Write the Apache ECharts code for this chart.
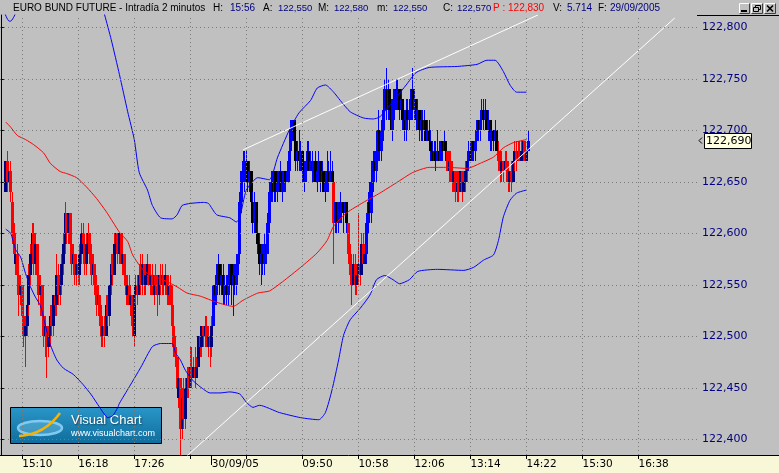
<!DOCTYPE html>
<html><head><meta charset="utf-8">
<script src="https://cdn.jsdelivr.net/npm/echarts@6.0.0/dist/echarts.min.js"></script>
<style>
html,body{margin:0;padding:0;background:#c0c0c0;overflow:hidden}
#wrap{position:relative;width:779px;height:473px;background:#c0c0c0}
#band{position:absolute;left:0;top:456px;width:779px;height:17px;background:#f8f8d8}
#c{position:absolute;left:0;top:0;width:779px;height:473px}
</style>
</head><body><div id="wrap"><div id="band"></div><div id="c"></div></div>
<script>
// ---------------- DATA ----------------
const firstBar = 3; // bar index of the first candle (2-minute bars)
const opens = [
122.64,122.67,122.65,122.66,122.63,122.60,122.57,122.58,122.56,122.54,
122.55,122.52,122.50,122.51,122.53,122.56,122.58,122.60,122.57,122.59,
122.56,122.54,122.55,122.52,122.50,122.51,122.49,122.50,122.52,122.51,
122.54,122.53,122.56,122.54,122.55,122.57,122.59,122.62,122.60,122.62,
122.59,122.57,122.58,122.56,122.57,122.56,122.58,122.60,122.59,122.57,
122.59,122.60,122.58,122.56,122.57,122.55,122.53,122.54,122.52,122.50,
122.51,122.50,122.53,122.52,122.55,122.57,122.56,122.59,122.60,122.58,
122.60,122.57,122.58,122.56,122.54,122.55,122.53,122.54,122.50,122.54,
122.55,122.54,122.56,122.55,122.57,122.55,122.56,122.57,122.55,122.56,
122.54,122.56,122.55,122.54,122.56,122.55,122.56,122.55,122.56,122.54,
122.55,122.53,122.51,122.49,122.48,122.44,122.46,122.41,122.44,122.42,
122.45,122.46,122.45,122.47,122.46,122.47,122.46,122.47,122.50,122.49,
122.51,122.50,122.51,122.49,122.50,122.49,122.51,122.55,122.54,122.56,
122.57,122.55,122.56,122.54,122.55,122.54,122.56,122.57,122.55,122.56,
122.55,122.57,122.58,122.63,122.66,122.65,122.66,122.67,122.65,122.66,
122.63,122.61,122.63,122.60,122.59,122.57,122.58,122.57,122.59,122.58,
122.61,122.64,122.65,122.64,122.66,122.64,122.65,122.66,122.64,122.65,
122.66,122.65,122.66,122.68,122.70,122.71,122.69,122.67,122.68,122.67,
122.68,122.66,122.65,122.67,122.68,122.66,122.67,122.66,122.67,122.65,
122.66,122.67,122.65,122.66,122.64,122.65,122.66,122.65,122.66,122.65,
122.61,122.63,122.61,122.63,122.62,122.63,122.62,122.63,122.61,122.58,
122.56,122.55,122.57,122.55,122.56,122.57,122.56,122.59,122.57,122.58,
122.61,122.63,122.62,122.65,122.67,122.66,122.68,122.70,122.68,122.70,
122.72,122.74,122.72,122.74,122.72,122.70,122.72,122.74,122.73,122.74,
122.72,122.73,122.71,122.70,122.72,122.71,122.72,122.74,122.72,122.73,
122.71,122.72,122.70,122.71,122.70,122.71,122.69,122.70,122.69,122.68,
122.67,122.68,122.67,122.68,122.67,122.69,122.68,122.69,122.68,122.66,
122.67,122.66,122.65,122.66,122.64,122.65,122.64,122.66,122.64,122.65,
122.66,122.67,122.68,122.67,122.69,122.68,122.69,122.71,122.70,122.71,
122.72,122.71,122.72,122.70,122.71,122.69,122.70,122.69,122.70,122.68,
122.67,122.66,122.67,122.66,122.67,122.66,122.65,122.66,122.65,122.67,
122.68,122.67,122.68,122.67,122.68,122.69,122.67,122.68];
const closes = [
122.67,122.65,122.66,122.64,122.60,122.58,122.58,122.56,122.54,122.55,
122.52,122.50,122.51,122.53,122.56,122.58,122.60,122.57,122.59,122.56,
122.54,122.55,122.52,122.50,122.51,122.49,122.50,122.52,122.51,122.54,
122.53,122.56,122.54,122.55,122.57,122.59,122.62,122.60,122.62,122.59,
122.57,122.58,122.56,122.57,122.56,122.58,122.60,122.59,122.57,122.59,
122.60,122.58,122.56,122.57,122.55,122.53,122.54,122.52,122.50,122.51,
122.50,122.53,122.52,122.55,122.57,122.56,122.59,122.60,122.58,122.60,
122.57,122.58,122.56,122.54,122.55,122.53,122.54,122.51,122.54,122.55,
122.54,122.56,122.55,122.57,122.55,122.56,122.57,122.55,122.56,122.54,
122.56,122.55,122.54,122.56,122.55,122.56,122.55,122.56,122.54,122.55,
122.53,122.51,122.49,122.48,122.45,122.46,122.41,122.44,122.42,122.45,
122.46,122.45,122.47,122.46,122.47,122.46,122.47,122.50,122.49,122.51,
122.50,122.51,122.49,122.50,122.49,122.51,122.55,122.54,122.56,122.57,
122.55,122.56,122.54,122.55,122.54,122.56,122.57,122.55,122.56,122.55,
122.57,122.58,122.63,122.66,122.67,122.67,122.67,122.65,122.66,122.63,
122.61,122.63,122.60,122.59,122.57,122.58,122.57,122.59,122.58,122.61,
122.64,122.65,122.64,122.66,122.64,122.65,122.66,122.64,122.65,122.66,
122.65,122.66,122.68,122.70,122.71,122.69,122.67,122.68,122.67,122.68,
122.66,122.65,122.67,122.68,122.66,122.67,122.66,122.67,122.65,122.66,
122.67,122.65,122.66,122.64,122.65,122.66,122.65,122.66,122.65,122.61,
122.63,122.61,122.63,122.62,122.63,122.62,122.63,122.61,122.58,122.56,
122.55,122.57,122.55,122.56,122.57,122.56,122.59,122.57,122.58,122.61,
122.63,122.62,122.65,122.67,122.66,122.68,122.70,122.68,122.70,122.72,
122.74,122.72,122.74,122.72,122.70,122.72,122.74,122.73,122.74,122.72,
122.73,122.71,122.70,122.72,122.71,122.72,122.74,122.72,122.73,122.71,
122.72,122.70,122.71,122.70,122.71,122.69,122.70,122.69,122.68,122.67,
122.68,122.67,122.68,122.67,122.69,122.68,122.69,122.68,122.66,122.67,
122.66,122.65,122.66,122.64,122.65,122.64,122.66,122.64,122.65,122.66,
122.67,122.68,122.67,122.69,122.68,122.69,122.71,122.70,122.71,122.72,
122.71,122.72,122.70,122.71,122.69,122.70,122.69,122.70,122.68,122.67,
122.66,122.67,122.66,122.67,122.66,122.65,122.66,122.65,122.67,122.68,
122.67,122.68,122.67,122.68,122.69,122.67,122.68,122.69];
const lows = [
122.64,122.64,122.64,122.63,122.59,122.57,122.56,122.55,122.52,122.53,
122.51,122.49,122.47,122.50,122.52,122.55,122.57,122.56,122.56,122.55,
122.53,122.52,122.51,122.49,122.48,122.46,122.48,122.49,122.50,122.50,
122.52,122.52,122.53,122.53,122.54,122.56,122.58,122.59,122.59,122.58,
122.56,122.56,122.55,122.55,122.55,122.55,122.57,122.58,122.56,122.56,
122.58,122.57,122.55,122.55,122.54,122.52,122.52,122.51,122.49,122.49,
122.49,122.50,122.51,122.51,122.54,122.55,122.56,122.58,122.57,122.57,
122.57,122.56,122.55,122.53,122.53,122.53,122.52,122.50,122.49,122.53,
122.53,122.54,122.54,122.54,122.54,122.54,122.55,122.55,122.54,122.54,
122.53,122.54,122.52,122.53,122.54,122.54,122.54,122.54,122.53,122.53,
122.53,122.50,122.48,122.47,122.44,122.43,122.385,122.40,122.41,122.41,
122.44,122.44,122.45,122.45,122.46,122.45,122.46,122.47,122.48,122.48,
122.49,122.49,122.49,122.48,122.47,122.48,122.51,122.53,122.53,122.55,
122.54,122.54,122.53,122.53,122.53,122.53,122.55,122.53,122.52,122.54,
122.54,122.56,122.58,122.62,122.65,122.64,122.65,122.64,122.64,122.62,
122.60,122.60,122.59,122.58,122.56,122.55,122.56,122.56,122.57,122.58,
122.60,122.63,122.63,122.63,122.63,122.63,122.64,122.64,122.63,122.64,
122.64,122.65,122.65,122.67,122.69,122.68,122.66,122.66,122.66,122.66,
122.65,122.64,122.65,122.66,122.66,122.66,122.65,122.65,122.65,122.64,
122.65,122.64,122.65,122.64,122.63,122.64,122.64,122.65,122.65,122.57,
122.60,122.60,122.60,122.61,122.61,122.60,122.61,122.60,122.57,122.55,
122.53,122.55,122.54,122.54,122.55,122.55,122.56,122.57,122.57,122.57,
122.60,122.61,122.61,122.64,122.65,122.65,122.67,122.67,122.67,122.69,
122.71,122.71,122.71,122.71,122.70,122.69,122.71,122.72,122.72,122.71,
122.71,122.70,122.69,122.69,122.70,122.70,122.71,122.71,122.71,122.70,
122.70,122.69,122.69,122.69,122.69,122.69,122.69,122.68,122.67,122.67,
122.67,122.66,122.67,122.67,122.67,122.67,122.68,122.67,122.66,122.65,
122.65,122.64,122.64,122.63,122.63,122.63,122.64,122.63,122.64,122.64,
122.65,122.66,122.67,122.67,122.67,122.67,122.69,122.69,122.69,122.70,
122.70,122.70,122.70,122.69,122.68,122.68,122.68,122.68,122.68,122.66,
122.65,122.65,122.65,122.66,122.65,122.64,122.64,122.64,122.65,122.66,
122.66,122.67,122.67,122.67,122.67,122.67,122.67,122.68];
const highs = [
122.67,122.68,122.66,122.67,122.64,122.61,122.60,122.59,122.57,122.56,
122.55,122.53,122.52,122.54,122.57,122.59,122.61,122.61,122.60,122.59,
122.57,122.56,122.55,122.53,122.52,122.51,122.51,122.53,122.53,122.54,
122.55,122.58,122.57,122.56,122.58,122.60,122.63,122.62,122.62,122.62,
122.60,122.59,122.58,122.58,122.57,122.59,122.61,122.61,122.60,122.60,
122.61,122.60,122.59,122.58,122.57,122.56,122.55,122.54,122.53,122.52,
122.52,122.54,122.54,122.55,122.58,122.58,122.60,122.60,122.60,122.60,
122.60,122.59,122.58,122.56,122.56,122.56,122.55,122.54,122.54,122.56,
122.56,122.57,122.58,122.58,122.57,122.57,122.58,122.57,122.57,122.57,
122.56,122.57,122.56,122.56,122.57,122.57,122.56,122.57,122.56,122.56,
122.56,122.55,122.52,122.50,122.48,122.47,122.46,122.45,122.46,122.46,
122.47,122.47,122.49,122.49,122.48,122.49,122.48,122.50,122.51,122.51,
122.51,122.52,122.52,122.51,122.51,122.52,122.55,122.56,122.57,122.58,
122.57,122.57,122.57,122.56,122.56,122.57,122.57,122.57,122.57,122.57,
122.58,122.58,122.64,122.66,122.68,122.68,122.68,122.67,122.67,122.66,
122.64,122.64,122.63,122.61,122.60,122.59,122.59,122.60,122.60,122.62,
122.65,122.66,122.66,122.66,122.66,122.66,122.66,122.67,122.66,122.66,
122.66,122.67,122.69,122.71,122.71,122.71,122.69,122.69,122.70,122.69,
122.68,122.67,122.67,122.69,122.69,122.68,122.68,122.67,122.68,122.67,
122.68,122.67,122.67,122.66,122.66,122.68,122.67,122.68,122.67,122.65,
122.63,122.63,122.63,122.64,122.63,122.63,122.63,122.63,122.61,122.59,
122.57,122.58,122.58,122.57,122.62,122.58,122.60,122.60,122.59,122.62,
122.64,122.65,122.67,122.68,122.68,122.70,122.72,122.70,122.71,122.72,
122.75,122.76,122.75,122.74,122.73,122.73,122.74,122.75,122.75,122.74,
122.74,122.73,122.72,122.73,122.73,122.73,122.74,122.76,122.74,122.73,
122.73,122.72,122.72,122.72,122.72,122.71,122.71,122.71,122.70,122.69,
122.69,122.69,122.70,122.69,122.69,122.69,122.70,122.69,122.68,122.68,
122.68,122.67,122.66,122.66,122.66,122.66,122.66,122.66,122.66,122.67,
122.68,122.69,122.69,122.69,122.69,122.70,122.71,122.71,122.72,122.73,
122.73,122.73,122.72,122.72,122.71,122.70,122.70,122.71,122.70,122.69,
122.68,122.68,122.67,122.68,122.68,122.67,122.66,122.67,122.68,122.69,
122.69,122.69,122.69,122.69,122.69,122.69,122.68,122.70];
// bar colouring regime: [fromBar, toBar, 1 = blue (up), 0 = red (down)]
const trendRuns = [[3,128,0],[129,201,1],[202,202,0],[203,210,1],[211,221,0],[222,270,1],[271,283,0],[284,301,1],[302,319,0],[320,320,1]];
// moving average and Bollinger bands: [barIndex, price]
const maPoints = [[3,122.708],[6,122.703],[10,122.695],[15,122.691],[20,122.686],[26,122.678],[30,122.668],[36,122.660],[40,122.658],[46,122.654],[52,122.645],[58,122.634],[64,122.621],[68,122.611],[72,122.601],[77,122.592],[80,122.579],[85,122.567],[89,122.561],[95,122.557],[101,122.553],[107,122.548],[113,122.542],[121,122.539],[131,122.533],[141,122.529],[147,122.535],[156,122.542],[163,122.544],[171,122.553],[182,122.567],[192,122.581],[198,122.593],[202,122.607],[210,122.620],[220,122.630],[230,122.639],[240,122.649],[250,122.659],[260,122.664],[271,122.664],[283,122.663],[291,122.668],[299,122.674],[305,122.683],[311,122.688],[319,122.691]];
const upperBandPoints = [[2,122.815],[5,122.806],[6,122.806],[9,122.814],[12,122.84],[58,122.84],[63,122.812],[67,122.788],[72,122.754],[77,122.718],[81,122.691],[84,122.659],[89,122.642],[92,122.627],[97,122.615],[104,122.614],[107,122.618],[110,122.627],[115,122.629],[123,122.630],[126,122.629],[131,122.618],[139,122.615],[143,122.611],[145,122.615],[149,122.642],[156,122.654],[163,122.652],[168,122.674],[175,122.700],[181,122.717],[188,122.729],[192,122.741],[197,122.744],[202,122.737],[206,122.729],[212,122.718],[220,122.712],[226,122.711],[230,122.713],[240,122.732],[246,122.744],[252,122.756],[260,122.761],[277,122.762],[289,122.764],[295,122.768],[300,122.768],[305,122.757],[309,122.744],[313,122.737],[319,122.737]];
const lowerBandPoints = [[3,122.604],[6,122.600],[9,122.584],[12,122.577],[15,122.561],[18,122.548],[21,122.538],[24,122.530],[27,122.511],[30,122.492],[34,122.477],[38,122.469],[44,122.463],[50,122.453],[55,122.443],[60,122.431],[65,122.421],[68,122.423],[71,122.431],[72,122.435],[78,122.451],[85,122.470],[92,122.490],[97,122.493],[104,122.493],[106,122.484],[109,122.477],[112,122.467],[116,122.458],[121,122.451],[127,122.445],[133,122.445],[139,122.446],[145,122.444],[149,122.436],[153,122.431],[157,122.433],[169,122.426],[182,122.421],[193,122.419],[197,122.426],[201,122.448],[205,122.477],[208,122.501],[212,122.516],[218,122.527],[224,122.540],[228,122.555],[233,122.559],[238,122.555],[242,122.551],[248,122.555],[253,122.563],[265,122.565],[281,122.564],[287,122.567],[293,122.574],[299,122.579],[302,122.593],[305,122.616],[309,122.632],[313,122.639],[319,122.642]];
// hand-drawn trend lines: [barIndex, price]
const upperTrendLine = [[147,122.681],[326,122.812]];
const lowerTrendLine = [[113,122.384],[409,122.809]];
// axes
const yTicks = [122.40,122.45,122.50,122.55,122.60,122.65,122.70,122.75,122.80];
const xTickIdx = [13,47,81,115,149,183,217,251,285,319,353,387];
const xLabelIdx = [13,47,81,128,183,217,251,285,319,353,387];
const xLabelText = ['15:10','16:18','17:26','30/09/05','09:50','10:58','12:06','13:14','14:22','15:30','16:38'];
const dayBreakIdx = 128;
const lastPrice = 122.69;
// header
const titleTexts = ['EURO BUND FUTURE - Intradía 2 minutos','H:','15:56','A:','122,550','M:','122,580','m:','122,550','C:','122,570','P : 122,830','V:','5.714','F:','29/09/2005'];
const titleColors = ['#000','#000','#000080','#000','#000080','#000','#000080','#000','#000080','#000','#000080','#ff0000','#000','#000080','#000','#000080'];

// ---------------- LAYOUT ----------------
const titleX = [13,213,230,263,278,318,334,377,393,443,457,493,553,567,598,610];
const titleSize = [10,10,10,10,9.5,10,9.5,10,9.5,10,9.5,10,10,10,10,10];
const Y_MIN = 122.38476, Y_MAX = 122.81194;
const X_MIN = -0.5, X_MAX = 422.5;

function trendAt(i){
  for (const r of trendRuns) if (i >= r[0] && i <= r[1]) return r[2];
  return 0;
}
const bars = opens.map((o,k)=>[firstBar+k, o, closes[k], lows[k], highs[k], trendAt(firstBar+k)]);
const fmtPrice = v => v.toFixed(3).replace('.', ',');

function renderCandle(params, api){
  const idx = api.value(0), o = api.value(1), c = api.value(2), l = api.value(3), h = api.value(4), up = api.value(5);
  const pO = api.coord([idx,o]), pC = api.coord([idx,c]), pL = api.coord([idx,l]), pH = api.coord([idx,h]);
  const x = Math.floor(pO[0]);
  const wick = up ? '#0000ff' : '#ff0000';
  const rising = c > o;
  const body = up ? (rising ? '#0000ff' : '#000000') : (rising ? '#000080' : '#ff0000');
  const yT = Math.round(Math.min(pO[1],pC[1])), yB = Math.round(Math.max(pO[1],pC[1]));
  const yH = Math.round(pH[1]), yL = Math.round(pL[1]);
  return {type:'group', children:[
    {type:'rect', shape:{x:x, y:yH, width:1, height:Math.max(1,yL-yH)}, style:{fill:wick}},
    {type:'rect', shape:{x:x-1, y:yT, width:3, height:Math.max(1,yB-yT)}, style:{fill:body}}
  ]};
}

const chart = echarts.init(document.getElementById('c'), null, {renderer:'canvas'});
const gridMarks = yTicks.map(v=>({yAxis:v})).concat(xTickIdx.map(i=>({xAxis:i})));
const FONT_AX = 'DejaVu Sans';

const option = {
  animation:false,
  backgroundColor:'transparent',
  grid:{left:0,right:82,top:15,bottom:18,containLabel:false,outerBoundsMode:'none'},
  xAxis:[{
    type:'value', min:X_MIN, max:X_MAX, position:'bottom',
    axisLine:{show:true,onZero:false,lineStyle:{color:'#000',width:1}},
    axisTick:{show:true,customValues:xTickIdx,length:4,lineStyle:{color:'#000'}},
    axisLabel:{show:true,customValues:xLabelIdx,formatter:v=>xLabelText[xLabelIdx.indexOf(v)]||'',align:'left',margin:4,color:'#000',fontFamily:FONT_AX,fontSize:10.5},
    splitLine:{show:false}
  },{
    type:'value', min:X_MIN, max:X_MAX, position:'bottom',
    axisLine:{show:false},
    axisTick:{show:true,customValues:[dayBreakIdx],length:10,lineStyle:{color:'#000'}},
    axisLabel:{show:false}, splitLine:{show:false}
  }],
  yAxis:{
    type:'value', position:'right', min:Y_MIN, max:Y_MAX,
    axisLine:{show:true,lineStyle:{color:'#000',width:1}},
    axisTick:{show:true,customValues:yTicks,length:3,lineStyle:{color:'#000'}},
    axisLabel:{show:true,customValues:yTicks,formatter:fmtPrice,color:'#000080',fontFamily:FONT_AX,fontSize:11,margin:5},
    splitLine:{show:false}
  },
  series:[
    {type:'line', data:[], silent:true, z:1,
     markLine:{silent:true, symbol:['none','none'], label:{show:false}, lineStyle:{color:'#7a7a7a',width:1,type:[1,3]}, data:gridMarks}},
    {type:'custom', data:bars, renderItem:renderCandle, encode:{x:0,y:[1,2,3,4]}, clip:true, silent:true, z:2},
    {type:'line', data:lowerBandPoints, symbol:'none', smooth:0.2, silent:true, z:3, lineStyle:{color:'#0000ff',width:1}},
    {type:'line', data:upperBandPoints, symbol:'none', smooth:0.2, silent:true, z:3, lineStyle:{color:'#0000ff',width:1}},
    {type:'line', data:maPoints, symbol:'none', smooth:0.2, silent:true, z:3, lineStyle:{color:'#ff0000',width:1}},
    {type:'line', data:upperTrendLine, symbol:'none', silent:true, z:4, lineStyle:{color:'#ffffff',width:1}},
    {type:'line', data:lowerTrendLine, symbol:'none', silent:true, z:4, lineStyle:{color:'#ffffff',width:1}}
  ]
};
chart.setOption(option);

// -------- overlay graphics (header, window buttons, logo, last-price tag) --------
const py = chart.convertToPixel({yAxisIndex:0}, lastPrice);
const g = [];
titleTexts.forEach((t,k)=>g.push({type:'text', z:100, style:{text:t, x:titleX[k], y:8, fill:titleColors[k], font:titleSize[k]+'px "Liberation Sans", Arial, sans-serif', textVerticalAlign:'middle'}}));
// right panel borders
g.push({type:'line', z:100, shape:{x1:697,y1:15.5,x2:779,y2:15.5}, style:{stroke:'#000',lineWidth:1}});
g.push({type:'line', z:100, shape:{x1:697,y1:455.5,x2:779,y2:455.5}, style:{stroke:'#000',lineWidth:1}});
// window buttons
function btn(x,w,kind){
  const y=3,h=11;
  const ch=[
    {type:'rect', shape:{x:x,y:y,width:w,height:h}, style:{fill:'#c0c0c0'}},
    {type:'polyline', shape:{points:[[x+0.5,y+h-0.5],[x+0.5,y+0.5],[x+w-0.5,y+0.5]]}, style:{stroke:'#ffffff',lineWidth:1,fill:null}},
    {type:'polyline', shape:{points:[[x+0.5,y+h-0.5],[x+w-0.5,y+h-0.5],[x+w-0.5,y+0.5]]}, style:{stroke:'#404040',lineWidth:1,fill:null}}
  ];
  if(kind==='min') ch.push({type:'rect', shape:{x:x+2,y:y+7,width:6,height:2}, style:{fill:'#000'}});
  if(kind==='res'){
    ch.push({type:'rect', shape:{x:x+4.5,y:y+2.5,width:5,height:4}, style:{fill:null,stroke:'#000',lineWidth:1}});
    ch.push({type:'rect', shape:{x:x+2.5,y:y+4.5,width:5,height:4}, style:{fill:'#c0c0c0',stroke:'#000',lineWidth:1}});
  }
  if(kind==='close'){
    ch.push({type:'line', shape:{x1:x+3,y1:y+2.5,x2:x+w-3,y2:y+h-2.5}, style:{stroke:'#000',lineWidth:1.6}});
    ch.push({type:'line', shape:{x1:x+w-3,y1:y+2.5,x2:x+3,y2:y+h-2.5}, style:{stroke:'#000',lineWidth:1.6}});
  }
  return {type:'group', z:100, children:ch};
}
g.push(btn(739,11,'min'), btn(751,12,'res'), btn(764,12,'close'));
// logo
g.push({type:'group', z:100, x:10, y:407, children:[
  {type:'rect', shape:{x:0.5,y:0.5,width:151,height:36}, style:{stroke:'#000',lineWidth:1,fill:new echarts.graphic.LinearGradient(0,0,0,1,[{offset:0,color:'#2a96c8'},{offset:1,color:'#0f6d9c'}])}},
  {type:'ellipse', shape:{cx:30,cy:21,rx:22,ry:7}, style:{fill:'rgba(140,210,245,0.35)',stroke:'#7fcaf0',lineWidth:2.5}},
  {type:'bezierCurve', shape:{x1:9,y1:29,cpx1:26,cpy1:28,cpx2:40,cpy2:20,x2:50,y2:6}, style:{stroke:'#f3b406',lineWidth:2.5,fill:null}},
  {type:'text', style:{text:'Visual Chart', x:61, y:13, fill:'#ffffff', font:'13px "Liberation Sans", Arial, sans-serif', textVerticalAlign:'middle', textShadowColor:'rgba(0,0,0,0.5)', textShadowBlur:2, textShadowOffsetX:1, textShadowOffsetY:1}},
  {type:'text', style:{text:'www.visualchart.com', x:61, y:27, fill:'#ffffff', font:'9px "Liberation Sans", Arial, sans-serif', textVerticalAlign:'middle'}}
]});
// last price tag on the price axis
g.push({type:'group', z:101, children:[
  {type:'polyline', shape:{points:[[702,py-3],[699,py],[702,py+3]]}, style:{stroke:'#000',lineWidth:1,fill:null}},
  {type:'rect', shape:{x:704.5,y:Math.round(py)-7.5,width:47,height:15}, style:{fill:'#ffffe1',stroke:'#000',lineWidth:1}},
  {type:'text', style:{text:fmtPrice(lastPrice), x:706, y:Math.round(py)+0.5, fill:'#000', font:'11px "DejaVu Sans", sans-serif', textVerticalAlign:'middle'}}
]});
chart.setOption({graphic:{elements:g}});
</script>
</body></html>
